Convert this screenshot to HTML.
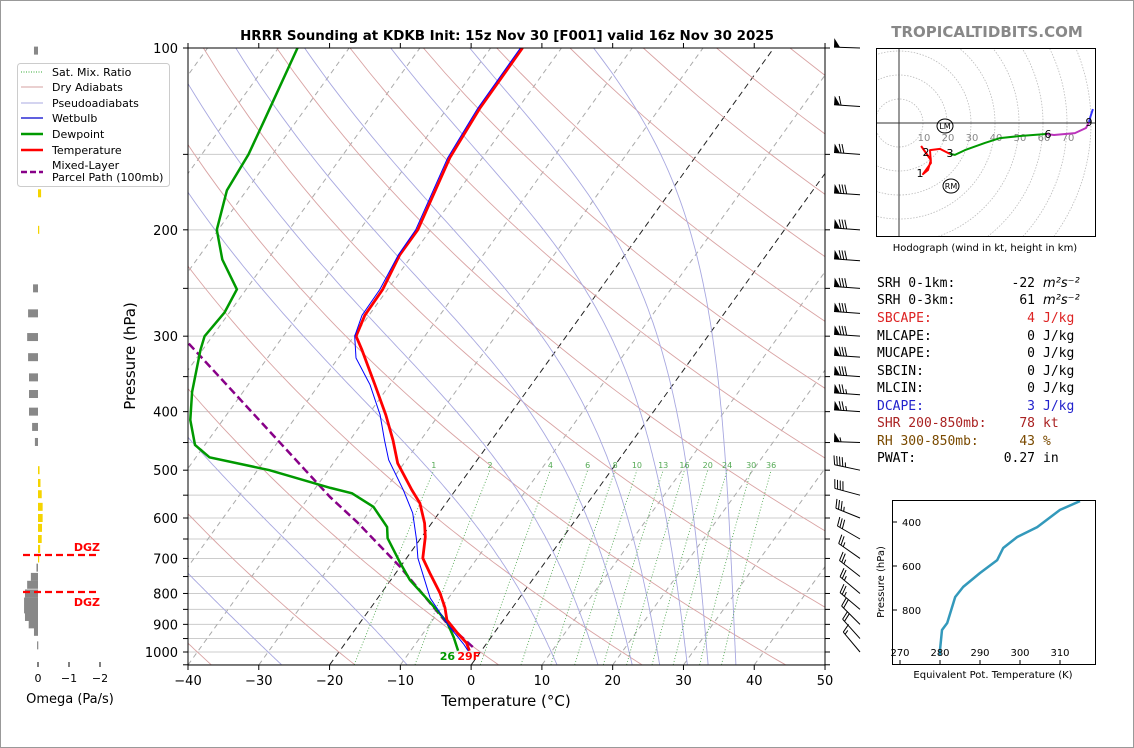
<!DOCTYPE html>
<html><head><meta charset="utf-8"><style>
html,body{margin:0;padding:0;background:#fff}
svg{display:block}
text{font-family:"DejaVu Sans","Liberation Sans",sans-serif}
.mono{font-family:"DejaVu Sans Mono","Liberation Mono",monospace;font-size:13px}
</style></head><body>
<svg id="s" width="1134" height="748" viewBox="0 0 1134 748" xmlns="http://www.w3.org/2000/svg">
<defs>
<clipPath id="mainclip"><rect x="188" y="48" width="637" height="617"/></clipPath>
<clipPath id="hodoclip"><rect x="876" y="48" width="220" height="189"/></clipPath>
<clipPath id="thclip"><rect x="892" y="500" width="204" height="165"/></clipPath>
</defs>
<rect x="0.5" y="0.5" width="1133" height="747" fill="#fff" stroke="#999"/>
<text x="507" y="40" text-anchor="middle" font-size="13.4" font-weight="bold">HRRR Sounding at KDKB Init: 15z Nov 30 [F001] valid 16z Nov 30 2025</text>
<text x="987" y="37" text-anchor="middle" font-size="15" font-weight="bold" fill="#888">TROPICALTIDBITS.COM</text>
<g id="bg" clip-path="url(#mainclip)"></g>
<g id="series" clip-path="url(#mainclip)"></g>
<g id="axes"></g>
<g id="omega"></g>
<g id="barbs"></g>
<g id="hodo"></g>
<g id="theta"></g>
<g>
<rect x="17.5" y="63.5" width="152" height="123" rx="3" fill="#fff" stroke="#ccc"/>
<line x1="21" y1="72" x2="43" y2="72" stroke="#3a3" stroke-dasharray="1,1.5"/>
<text x="52" y="76" font-size="11">Sat. Mix. Ratio</text>
<line x1="21" y1="87" x2="43" y2="87" stroke="#d4a0a0"/>
<text x="52" y="91" font-size="11">Dry Adiabats</text>
<line x1="21" y1="103" x2="43" y2="103" stroke="#a8a8e0"/>
<text x="52" y="107" font-size="11">Pseudoadiabats</text>
<line x1="21" y1="118" x2="43" y2="118" stroke="#00c" stroke-width="1.3"/>
<text x="52" y="122" font-size="11">Wetbulb</text>
<line x1="21" y1="134" x2="43" y2="134" stroke="#090" stroke-width="2.5"/>
<text x="52" y="138" font-size="11">Dewpoint</text>
<line x1="21" y1="150" x2="43" y2="150" stroke="#f00" stroke-width="2.5"/>
<text x="52" y="154" font-size="11">Temperature</text>
<line x1="21" y1="172" x2="43" y2="172" stroke="#808" stroke-width="2.5" stroke-dasharray="6,3"/>
<text x="52" y="169" font-size="11">Mixed-Layer</text>
<text x="52" y="181" font-size="11">Parcel Path (100mb)</text>
</g>
<g class="mono">
<text x="877" y="287" class="mono">SRH 0-1km:</text><text x="1035" y="287" text-anchor="end" class="mono">-22</text><text x="1043" y="287" font-style="italic" font-size="13">m²s⁻²</text>
<text x="877" y="304" class="mono">SRH 0-3km:</text><text x="1035" y="304" text-anchor="end" class="mono">61</text><text x="1043" y="304" font-style="italic" font-size="13">m²s⁻²</text>
<text x="877" y="322" class="mono" fill="#d22">SBCAPE:</text><text x="1035" y="322" text-anchor="end" class="mono" fill="#d22">4</text><text x="1043" y="322" class="mono" fill="#d22">J/kg</text>
<text x="877" y="340" class="mono">MLCAPE:</text><text x="1035" y="340" text-anchor="end" class="mono">0</text><text x="1043" y="340" class="mono">J/kg</text>
<text x="877" y="357" class="mono">MUCAPE:</text><text x="1035" y="357" text-anchor="end" class="mono">0</text><text x="1043" y="357" class="mono">J/kg</text>
<text x="877" y="375" class="mono">SBCIN:</text><text x="1035" y="375" text-anchor="end" class="mono">0</text><text x="1043" y="375" class="mono">J/kg</text>
<text x="877" y="392" class="mono">MLCIN:</text><text x="1035" y="392" text-anchor="end" class="mono">0</text><text x="1043" y="392" class="mono">J/kg</text>
<text x="877" y="410" class="mono" fill="#22c">DCAPE:</text><text x="1035" y="410" text-anchor="end" class="mono" fill="#22c">3</text><text x="1043" y="410" class="mono" fill="#22c">J/kg</text>
<text x="877" y="427" class="mono" fill="#a22">SHR 200-850mb:</text><text x="1035" y="427" text-anchor="end" class="mono" fill="#a22">78</text><text x="1043" y="427" class="mono" fill="#a22">kt</text>
<text x="877" y="445" class="mono" fill="#7a4a00">RH 300-850mb:</text><text x="1035" y="445" text-anchor="end" class="mono" fill="#7a4a00">43</text><text x="1043" y="445" class="mono" fill="#7a4a00">%</text>
<text x="877" y="462" class="mono">PWAT:</text><text x="1035" y="462" text-anchor="end" class="mono">0.27</text><text x="1043" y="462" class="mono">in</text>
</g>
</svg>
<script>
// ---- data ----
const tempP = [995,966,930,885,845,799,740,699,645,612,567,539,487,446,405,361,316,300,277,251,220,200,152,126,100];
const tempT = [-1.7,-2.9,-5.2,-8.0,-9.5,-11.7,-15.2,-17.7,-19.5,-21.0,-23.7,-26.2,-30.9,-33.9,-37.5,-42.1,-47.5,-49.7,-50.6,-50.7,-51.8,-51.8,-54.6,-55.4,-55.5];
const dewP = [995,945,892,827,760,712,648,621,575,546,535,500,476,454,413,371,316,300,274,251,224,200,172,150,132,100];
const dewT = [-3.3,-5.3,-7.8,-12.2,-17.3,-20.4,-24.7,-25.9,-29.9,-34.3,-37.9,-48.3,-58.1,-61.4,-64.6,-67.2,-70.3,-71.1,-70.7,-71.3,-76.4,-80.2,-82.8,-83.4,-84.6,-87.3];
const wbP = [995,970,906,814,699,653,589,539,481,446,405,361,326,300,277,251,220,200,152,126,100];
const wbT = [-1.9,-3.2,-7.1,-12.6,-18.4,-20.4,-23.7,-27.4,-32.5,-35.1,-38.3,-42.8,-47.5,-49.9,-51.0,-51.1,-52.0,-52.1,-54.9,-55.7,-55.8];
const parP = [981,902,723,609,554,307];
const parT = [-1.6,-7.3,-20.0,-30.7,-37.0,-72.9];
const isoTicks = [-40,-30,-20,-10,0,10,20,30,40,50];
const pTicks = [100,200,300,400,500,600,700,800,900,1000];
const dryT0 = [-40,-20,0,20,40,60,80,100,120,140,160,180,200,220,240];
const moistT0 = [-30,-12,10,16,21,25,29,32,36];
const mixW = [1,2,4,6,8,10,13,16,20,24,30,36];
const omegaP = [101,124,149,174,200,250,275,301,325,351,374,400,424,449,500,525,548,575,600,623,650,675,700,725,751,774,800,825,850,875,900,926,975];
const omegaV = [0.13,-0.03,-0.1,-0.1,-0.04,0.16,0.32,0.35,0.32,0.29,0.29,0.29,0.19,0.1,-0.05,-0.08,-0.12,-0.15,-0.15,-0.13,-0.12,-0.07,-0.03,0.05,0.23,0.35,0.42,0.45,0.45,0.42,0.3,0.13,0.03];
const omegaTicks = [0,-1,-2];
const barbP = [100,125,150,175,200,225,250,275,300,325,350,375,400,450,500,550,600,650,700,750,800,850,900,950,1000];
const barbSpd = [50,60,70,80,80,80,80,80,80,80,80,75,75,55,45,40,35,30,25,25,25,25,20,20,15];
const barbDir = [272,274,274,274,274,274,274,274,274,274,274,274,274,272,282,285,292,300,305,308,310,310,315,318,320];
const hodoU0 = [9.2,13.3,12.1,10,13.3,12.9,17.1,21.3];
const hodoV0 = [-9.6,-15.4,-19.6,-21.3,-16.7,-11.3,-10.8,-12.9];
const hodoU1 = [21.3,23.3,27.5,35.8,42.1,50.4,61.3];
const hodoV1 = [-12.9,-13.3,-11.3,-8.3,-6.3,-5.4,-4.6];
const hodoU2 = [61.3,64.6,73.3,77.9,79.2];
const hodoV2 = [-4.6,-5,-4.2,-2.1,0.4];
const hodoU3 = [79.2,79.6,80.8];
const hodoV3 = [0.4,2.1,5.8];
const hodoRings = [10,20,30,40,50,60,70,80];
const thetaE = [280.0,280.0,280.5,281.8,283.8,285.8,290,294.3,295.8,299.3,304.3,310,315];
const thetaP = [1005,982,891,859,741,695,632,573,518,468,423,345,305];
const thetaXTicks = [270,280,290,300,310];
const thetaYTicks = [400,600,800];

// ---- helpers ----
const NS = "http://www.w3.org/2000/svg";
function mk(parent, tag, attrs, text){
  const e = document.createElementNS(NS, tag);
  for (const k in attrs) e.setAttribute(k, attrs[k]);
  if (text !== undefined) e.textContent = text;
  parent.appendChild(e);
  return e;
}
const yP = p => 48 + (Math.log10(p) - 2) * 604;
const xT = (T, p) => 188 + (T + 40) * 7.078 + (665 - yP(p)) * 0.72;
const pts = (Ps, Ts) => Ps.map((p,i)=>xT(Ts[i],p).toFixed(1)+","+yP(p).toFixed(1)).join(" ");

const bg = document.getElementById('bg');
const series = document.getElementById('series');
const axes = document.getElementById('axes');

for (let p = 100; p <= 1050; p += 50) {
  const l = mk(bg,'line',{x1:188,x2:825,y1:yP(p),y2:yP(p),stroke:'#ccc','stroke-width':1});
  
  
}
for (let T = -140; T <= 50; T += 10) {
  const black = (T === 0 || T === -20);
  const l = mk(bg,'line',{x1:xT(T,1050),y1:yP(1050),x2:xT(T,100),y2:yP(100),stroke:black?'#222':'#aaa','stroke-width':1,'stroke-dasharray':black?'6,4':'5,4'});
  
  
}
dryT0.forEach(t0=>{
  const th = t0 + 273.15; const a=[];
  for (let p=1050;p>=100;p-=10){ a.push(xT(th*Math.pow(p/1000,0.2857)-273.15,p).toFixed(1)+","+yP(p).toFixed(1)); }
  const l = mk(bg,'polyline',{points:a.join(" "),fill:'none',stroke:'#d9a3a3','stroke-width':0.9});
  
  
});
function rs(T,p){ const e=6.112*Math.exp(17.67*(T-273.15)/(T-29.65)); return 0.622*e/(p-e); }
function dTdp(T,p){ const Rd=287.04, cp=1005.7, Lv=2.501e6, r=rs(T,p);
  return (Rd*T + Lv*r)/(cp + Lv*Lv*r*0.622/(Rd*T*T))/p; }
moistT0.forEach(t0=>{
  let T=t0+273.15, p=1000; const up=[], dn=[];
  while(p>100){ up.push([p,T]); const h=-5; T+=dTdp(T,p)*h; p+=h; } up.push([p,T]);
  T=t0+273.15; p=1000;
  while(p<1050){ const h=5; T+=dTdp(T,p)*h; p+=h; dn.push([p,T]); }
  const all = dn.reverse().concat(up);
  const l = mk(bg,'polyline',{points:all.map(q=>xT(q[1]-273.15,q[0]).toFixed(1)+","+yP(q[0]).toFixed(1)).join(" "),fill:'none',stroke:'#a8a8e0','stroke-width':0.9});
  
  
});
function tdW(w,p){ const e=w*p/(622+w); const g=Math.log(e/6.112); return 243.5*g/(17.67-g); }
mixW.forEach(w=>{
  const a=[]; for(let p=1050;p>=500;p-=10) a.push(xT(tdW(w,p),p).toFixed(1)+","+yP(p).toFixed(1));
  const l = mk(bg,'polyline',{points:a.join(" "),fill:'none',stroke:'#5a5','stroke-width':0.9,'stroke-dasharray':'1,2'});
  
  
  const t = mk(bg,'text',{x:xT(tdW(w,500),500),y:yP(490)+3,'font-size':8,fill:'#5a5','text-anchor':'middle'},String(w));
  
  
});

let e;
e = mk(series,'polyline',{points:pts(parP,parT),fill:'none',stroke:'#808','stroke-width':2.5,'stroke-dasharray':'8,4'});


e = mk(series,'polyline',{points:pts(dewP,dewT),fill:'none',stroke:'#090','stroke-width':2.5});


e = mk(series,'polyline',{points:pts(tempP,tempT),fill:'none',stroke:'#f00','stroke-width':2.8});


e = mk(series,'polyline',{points:pts(wbP,wbT),fill:'none',stroke:'#00f','stroke-width':1});


e = mk(series,'text',{x:xT(dewT[0],dewP[0])-3,y:660,'font-size':11,'font-weight':'bold',fill:'#090','text-anchor':'end'},'26');


e = mk(series,'text',{x:xT(tempT[0],tempP[0])-12,y:660,'font-size':11,'font-weight':'bold',fill:'#f00'},'29F');



e = mk(axes,'rect',{x:188,y:48,width:637,height:617,fill:'none',stroke:'#000','stroke-width':1});


isoTicks.forEach(T=>{
  const x = 188+(T+40)*7.078;
  mk(axes,'line',{x1:x,x2:x,y1:665,y2:670,stroke:'#000'});
  mk(axes,'line',{x1:x,x2:x,y1:48,y2:43,stroke:'#000'});
  const t = mk(axes,'text',{x:x,y:685,'font-size':13,'text-anchor':'middle'},T<0?'\u2212'+(-T):String(T));
  
  
});
for (let p=100;p<=1050;p+=50){ mk(axes,'line',{x1:825,x2:830,y1:yP(p),y2:yP(p),stroke:'#000'}); mk(axes,'line',{x1:183,x2:188,y1:yP(p),y2:yP(p),stroke:'#000'}); }
pTicks.forEach(p=>{
  const t = mk(axes,'text',{x:178,y:yP(p)+5,'font-size':13,'text-anchor':'end'},String(p));
  
  
});
e = mk(axes,'text',{x:506,y:706,'font-size':15,'text-anchor':'middle'},'Temperature (°C)');


e = mk(axes,'text',{x:135,y:356,'font-size':15,'text-anchor':'middle',transform:'rotate(-90 135 356)'},'Pressure (hPa)');



const om = document.getElementById('omega');
const xO = v => 38 - v*31;
omegaP.forEach((p,i)=>{
  const v=omegaV[i], x0=Math.min(38,xO(v)), w=Math.abs(xO(v)-38);
  const r = mk(om,'rect',{x:x0,y:yP(p)-4,width:Math.max(w,1.2),height:8,fill:v<0?'#f5d400':'#888'});
  
  
});
omegaTicks.forEach(v=>{
  mk(om,'line',{x1:xO(v),x2:xO(v),y1:662,y2:667,stroke:'#000'});
  const t = mk(om,'text',{x:xO(v),y:682,'font-size':11,'text-anchor':'middle'},v<0?'\u2212'+(-v):String(v));
  
  
});
e = mk(om,'text',{x:70,y:703,'font-size':13,'text-anchor':'middle'},'Omega (Pa/s)');


[555,592].forEach((y,i)=>{
  const l = mk(om,'line',{x1:23,x2:100,y1:y,y2:y,stroke:'#f00','stroke-width':2.2,'stroke-dasharray':'7,4'});
  
  
  const t = mk(om,'text',{x:100,y:i===0?y-4:y+14,'font-size':11,'font-weight':'bold',fill:'#f00','text-anchor':'end'},'DGZ');
  
  
});

const bb = document.getElementById('barbs');
barbP.forEach((p,i)=>{
  const g = mk(bb,'g',{});
  
  
  const bx=860, by=yP(p), L=26, a=barbDir[i]*Math.PI/180;
  const ux=Math.sin(a), uy=-Math.cos(a);
  let qx=-uy, qy=ux; if (qy>0) {qx=-qx;qy=-qy;}
  const tx=bx+ux*L, ty=by+uy*L;
  mk(g,'line',{x1:bx,y1:by,x2:tx,y2:ty,stroke:'#000','stroke-width':1});
  let s=Math.round(barbSpd[i]/5)*5, d=0;
  while(s>=50){ const x1=tx-ux*d, y1=ty-uy*d, x2=tx-ux*(d+6), y2=ty-uy*(d+6);
    mk(g,'polygon',{points:`${x1},${y1} ${x2},${y2} ${x1+qx*9},${y1+qy*9}`,fill:'#000'}); d+=7; s-=50; }
  while(s>=10){ const x1=tx-ux*d, y1=ty-uy*d; mk(g,'line',{x1:x1,y1:y1,x2:x1+qx*9+ux*2.5,y2:y1+qy*9+uy*2.5,stroke:'#000'}); d+=2.8; s-=10; }
  if(s>=5){ if(d===0) d=2.8; const x1=tx-ux*d, y1=ty-uy*d; mk(g,'line',{x1:x1,y1:y1,x2:x1+qx*4.5+ux*1.2,y2:y1+qy*4.5+uy*1.2,stroke:'#000'}); }
});

const hd = document.getElementById('hodo');
const hx = u => 899 + u*2.4, hy = v => 123 - v*2.4;
const hc = mk(hd,'g',{'clip-path':'url(#hodoclip)'});
hodoRings.forEach(r=>{
  const c = mk(hc,'circle',{cx:899,cy:123,r:r*2.4,fill:'none',stroke:'#bbb','stroke-width':0.8,'stroke-dasharray':'1.5,1.5'});
  
  
});
mk(hc,'line',{x1:876,x2:1096,y1:123,y2:123,stroke:'#333'});
mk(hc,'line',{x1:899,x2:899,y1:48,y2:237,stroke:'#333'});
hodoRings.slice(0,7).forEach(r=>{
  const t = mk(hc,'text',{x:hx(r)+1,y:141,'font-size':10,fill:'#888','text-anchor':'middle'},String(r));
  
  
});
[[hodoU0,hodoV0,'#f00'],[hodoU1,hodoV1,'#090'],[hodoU2,hodoV2,'#b3b'],[hodoU3,hodoV3,'#33f']].forEach((s,k)=>{
  const l = mk(hc,'polyline',{points:s[0].map((u,i)=>hx(u).toFixed(1)+","+hy(s[1][i]).toFixed(1)).join(" "),fill:'none',stroke:s[2],'stroke-width':2,'stroke-linejoin':'round'});
  
  
});
[['1',920,177],['2',926,156],['3',950,157],['6',1048,138],['9',1089,126]].forEach(a=>{
  const t = mk(hc,'text',{x:a[1],y:a[2],'font-size':11,'text-anchor':'middle'},a[0]);
  
  
});
[['LM',945,126],['RM',951,186]].forEach(a=>{
  mk(hc,'ellipse',{cx:a[1],cy:a[2],rx:8,ry:7,fill:'none',stroke:'#000'});
  const t = mk(hc,'text',{x:a[1],y:a[2]+3,'font-size':8,'text-anchor':'middle'},a[0]);
  
  
});
e = mk(hd,'rect',{x:876.5,y:48.5,width:219,height:188,fill:'none',stroke:'#000'});


e = mk(hd,'text',{x:985,y:251,'font-size':10,'text-anchor':'middle'},'Hodograph (wind in kt, height in km)');



const th = document.getElementById('theta');
const tx_ = t => 900 + (t-270)*4, ty_ = p => 522 + (p-400)*0.22;
const tcl = mk(th,'g',{'clip-path':'url(#thclip)'});
e = mk(tcl,'polyline',{points:thetaE.map((t,i)=>tx_(t).toFixed(1)+","+ty_(thetaP[i]).toFixed(1)).join(" "),fill:'none',stroke:'#3399bb','stroke-width':2.5,'stroke-linejoin':'round'});


e = mk(th,'rect',{x:892.5,y:500.5,width:203,height:164,fill:'none',stroke:'#000'});


thetaXTicks.forEach(t=>{
  mk(th,'line',{x1:tx_(t),x2:tx_(t),y1:665,y2:660,stroke:'#000'});
  const l = mk(th,'text',{x:tx_(t),y:656,'font-size':10,'text-anchor':'middle'},String(t));
  
  
});
thetaYTicks.forEach(p=>{
  mk(th,'line',{x1:892,x2:897,y1:ty_(p),y2:ty_(p),stroke:'#000'});
  const l = mk(th,'text',{x:902,y:ty_(p)+4,'font-size':10},String(p));
  
  
});
e = mk(th,'text',{x:884,y:582,'font-size':10,'text-anchor':'middle',transform:'rotate(-90 884 582)'},'Pressure (hPa)');


e = mk(th,'text',{x:993,y:678,'font-size':10,'text-anchor':'middle'},'Equivalent Pot. Temperature (K)');


</script>
</body></html>
